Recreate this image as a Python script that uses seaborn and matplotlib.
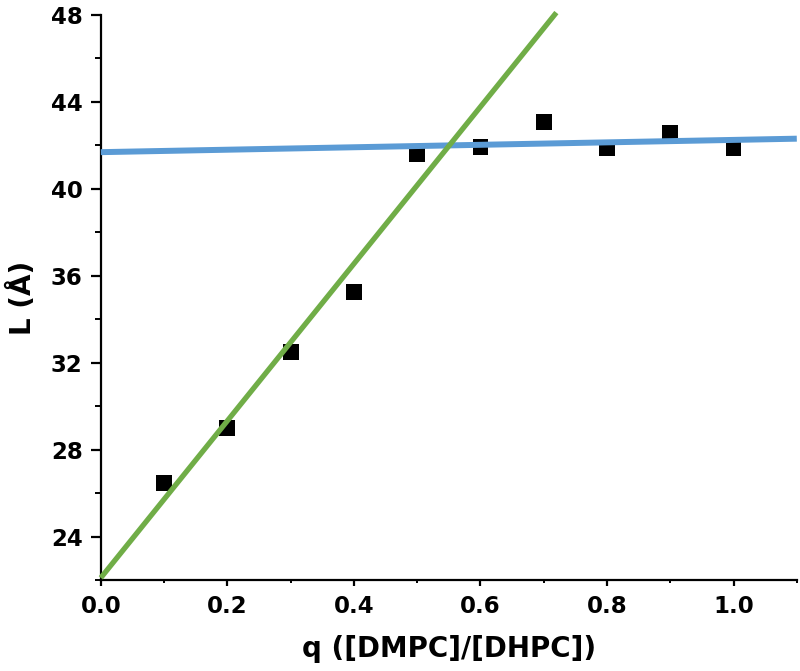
import matplotlib
matplotlib.use("Agg")
import matplotlib.pyplot as plt
import numpy as np
import pandas as pd
import seaborn as sns
from matplotlib.ticker import MultipleLocator

# measured bicelle thickness vs q
q_values = [0.1, 0.2, 0.3, 0.4, 0.5, 0.6, 0.7, 0.8, 0.9, 1.0]
thickness = [26.45, 29.0, 32.5, 35.25, 41.6, 41.9, 43.05, 41.85, 42.55, 41.85]

# linear fits (end points)
fit_low_x = [0.0, 0.72]
fit_low_y = [22.1, 48.1]
fit_high_x = [0.0, 1.1]
fit_high_y = [41.68, 42.3]

df = pd.DataFrame({"q": q_values, "L": thickness})

sns.set_style("ticks", {"axes.edgecolor": "black", "text.color": "black",
                        "axes.labelcolor": "black", "xtick.color": "black",
                        "ytick.color": "black"})
plt.rcParams["font.family"] = ["DejaVu Sans"]
plt.rcParams["font.weight"] = "bold"

fig = plt.figure(figsize=(8, 6.71), dpi=100)
ax = fig.add_axes([0.126, 0.1356, 0.87, 0.8424])

sns.scatterplot(x="q", y="L", data=df, marker="s", s=130, color="black",
                edgecolor="none", zorder=2, ax=ax)
sns.lineplot(x=fit_high_x, y=fit_high_y, color="#5B9BD5", linewidth=4.3,
             zorder=3, ax=ax)
sns.lineplot(x=fit_low_x, y=fit_low_y, color="#70AD47", linewidth=3.8,
             zorder=4, ax=ax)
for ln in ax.lines:
    ln.set_clip_on(False)
    ln.set_solid_capstyle("butt")

ax.set_xlim(0.0, 1.1)
ax.set_ylim(22, 48)
ax.xaxis.set_minor_locator(MultipleLocator(0.1))
ax.yaxis.set_major_locator(MultipleLocator(4))
ax.yaxis.set_minor_locator(MultipleLocator(2))
ax.set_xticks(np.arange(0, 1.01, 0.2))
ax.set_xticklabels([f"{v:.1f}" for v in np.arange(0, 1.01, 0.2)])

sns.despine(ax=ax)
for side in ["left", "bottom"]:
    ax.spines[side].set_linewidth(1.6)
ax.tick_params(axis="y", which="major", length=7, width=1.6, pad=6,
               labelsize=16.5, colors="black")
ax.tick_params(axis="y", which="minor", length=4, width=1.4, colors="black")
ax.tick_params(axis="x", which="major", length=4, width=1.6, pad=7,
               labelsize=16.5, colors="black")
ax.tick_params(axis="x", which="minor", length=2.5, width=1.4, colors="black")
for lab in ax.get_xticklabels() + ax.get_yticklabels():
    lab.set_fontweight("bold")

ax.set_xlabel("q ([DMPC]/[DHPC])", fontsize=20, fontweight="bold",
              labelpad=12, color="black")
ax.set_ylabel("L (Å)", fontsize=20, fontweight="bold", labelpad=10,
              color="black")

plt.savefig("out.png", dpi=100)
